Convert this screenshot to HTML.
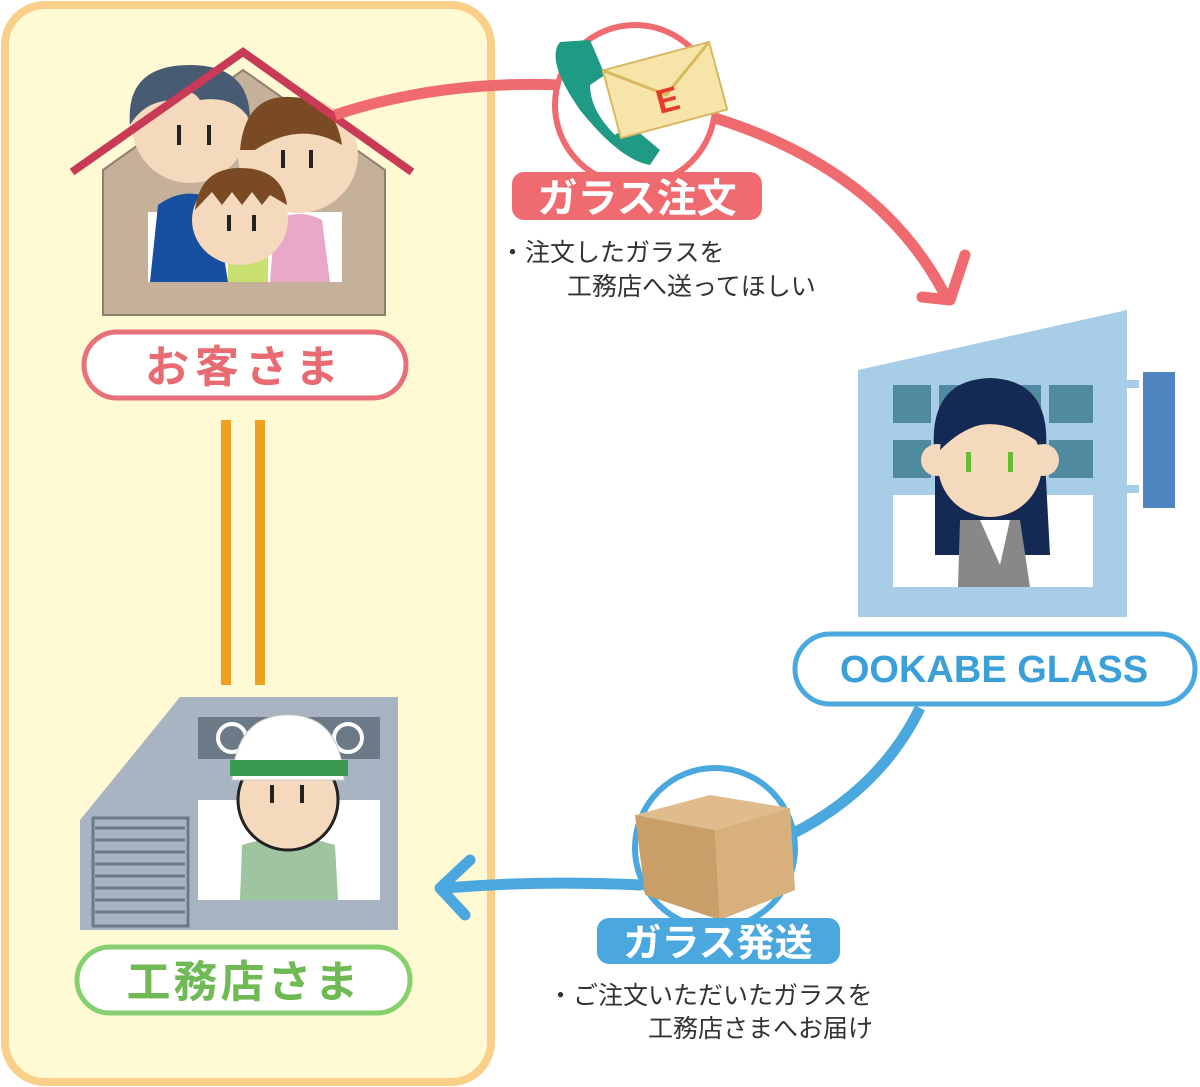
<!DOCTYPE html>
<html><head><meta charset="utf-8"><style>
html,body{margin:0;padding:0;background:#fff;}
svg{display:block}
text{font-family:"Liberation Sans","Noto Sans CJK JP",sans-serif;}
</style></head><body>
<svg width="1200" height="1087" viewBox="0 0 1200 1087" xmlns="http://www.w3.org/2000/svg">
<rect x="5" y="5" width="486" height="1077" rx="40" fill="#fff9d4" stroke="#f9cf8a" stroke-width="8"/>
<polygon points="103,170 243,70 385,170 385,315 103,315" fill="#c5b09a" stroke="#8f7f70" stroke-width="2"/>
<rect x="148" y="212" width="194" height="70" fill="#fff"/>
<path d="M150,282 L158,205 Q185,185 215,200 L228,282 Z" fill="#1750a0"/>
<ellipse cx="190" cy="125" rx="58" ry="58" fill="#f5d9bc"/>
<path d="M130,125 Q125,65 190,65 Q250,65 250,120 Q235,95 200,100 Q190,85 175,100 Q145,100 130,125Z" fill="#475c72"/>
<path d="M270,282 L275,220 Q300,208 322,220 L330,282Z" fill="#e8a8c8"/>
<ellipse cx="298" cy="155" rx="60" ry="58" fill="#f5d9bc"/>
<path d="M240,150 Q245,95 290,97 Q335,98 342,145 Q300,120 255,150Z" fill="#7a4a25"/>
<rect x="228" y="250" width="40" height="32" fill="#c8e070"/>
<ellipse cx="240" cy="220" rx="48" ry="45" fill="#f5d9bc"/>
<path d="M195,210 Q200,168 240,168 Q282,168 287,205 L270,195 L262,205 L252,192 L242,205 L232,192 L222,205 L212,192Z" fill="#7a4a25"/>
<g fill="#222"><rect x="177" y="125" width="4" height="20"/><rect x="207" y="125" width="4" height="20"/><rect x="227" y="215" width="4" height="16"/><rect x="252" y="215" width="4" height="16"/><rect x="281" y="150" width="4" height="18"/><rect x="309" y="150" width="4" height="18"/></g>
<polyline points="72,172 243,52 412,172" fill="none" stroke="#c83a55" stroke-width="8"/>
<rect x="84" y="332" width="322" height="66" rx="33" fill="#fff" stroke="#e8707a" stroke-width="5"/>
<text x="245" y="382" text-anchor="middle" font-size="44" font-weight="bold" fill="#e76b70" letter-spacing="6">お客さま</text>
<line x1="226" y1="420" x2="226" y2="685" stroke="#f0a020" stroke-width="10"/>
<line x1="260" y1="420" x2="260" y2="685" stroke="#f0a020" stroke-width="10"/>
<polygon points="80,820 180,697 398,697 398,930 80,930" fill="#a8b4c2"/>
<rect x="198" y="717" width="182" height="42" fill="#6c7a88"/>
<rect x="198" y="800" width="182" height="100" fill="#fff"/>
<g stroke="#6c7a88" stroke-width="3"><line x1="95" y1="828" x2="185" y2="828"/><line x1="95" y1="840" x2="185" y2="840"/><line x1="95" y1="852" x2="185" y2="852"/><line x1="95" y1="864" x2="185" y2="864"/><line x1="95" y1="876" x2="185" y2="876"/><line x1="95" y1="888" x2="185" y2="888"/><line x1="95" y1="900" x2="185" y2="900"/><line x1="95" y1="912" x2="185" y2="912"/></g>
<rect x="93" y="818" width="95" height="108" fill="none" stroke="#6c7a88" stroke-width="3"/>
<circle cx="232" cy="738" r="14" fill="none" stroke="#fff" stroke-width="4"/>
<circle cx="348" cy="738" r="14" fill="none" stroke="#fff" stroke-width="4"/>
<path d="M240,900 L242,845 Q288,830 335,845 L338,900Z" fill="#9ec4a0"/>
<circle cx="288" cy="800" r="50" fill="#f5d9bc" stroke="#222" stroke-width="3"/>
<path d="M232,780 Q236,715 288,715 Q340,715 344,780Z" fill="#fff" stroke="#ccc"/>
<rect x="230" y="760" width="118" height="16" fill="#3a9a50"/>
<g fill="#222"><rect x="270" y="785" width="4" height="18"/><rect x="300" y="785" width="4" height="18"/></g>
<rect x="77" y="947" width="333" height="66" rx="33" fill="#fff" stroke="#86d070" stroke-width="5"/>
<text x="244" y="997" text-anchor="middle" font-size="44" font-weight="bold" fill="#6fba55" letter-spacing="3">工務店さま</text>
<path d="M335,115 Q440,80 560,85" fill="none" stroke="#ef6b70" stroke-width="11"/>
<path d="M715,118 Q880,170 945,295" fill="none" stroke="#ef6b70" stroke-width="11" stroke-linecap="round"/>
<polyline points="922,297 950,300 965,255" fill="none" stroke="#ef6b70" stroke-width="11" stroke-linecap="round" stroke-linejoin="round"/>
<circle cx="635" cy="105" r="80" fill="#fff" stroke="#ef6b70" stroke-width="6"/>
<path d="M560,42 Q545,60 580,110 Q620,160 650,165 L660,150 L630,125 L615,135 Q590,110 590,85 L605,75 L590,40Z" fill="#1f9a84"/>
<g transform="rotate(-15 665 90)"><rect x="610" y="55" width="110" height="70" fill="#f7e4a8" stroke="#d8b860" stroke-width="2"/><polyline points="610,55 665,95 720,55" fill="none" stroke="#d8b860" stroke-width="3"/><text x="665" y="112" text-anchor="middle" font-size="34" font-weight="bold" fill="#e83a2a">E</text></g>
<rect x="512" y="172" width="250" height="48" rx="12" fill="#ef6b70"/>
<text x="637" y="212" text-anchor="middle" font-size="40" font-weight="bold" fill="#fff">ガラス注文</text>
<text x="500" y="261" font-size="25" fill="#333">・注文したガラスを</text>
<text x="567" y="295" font-size="25" fill="#333">工務店へ送ってほしい</text>
<polygon points="858,370 1127,310 1127,617 858,617" fill="#a8cde6"/>
<rect x="1127" y="380" width="12" height="8" fill="#a8cde6"/><rect x="1127" y="485" width="12" height="8" fill="#a8cde6"/>
<rect x="1143" y="372" width="32" height="136" fill="#4f86bf"/>
<rect x="893" y="385" width="200" height="38" fill="#4f8aa0"/>
<rect x="893" y="440" width="200" height="38" fill="#4f8aa0"/>
<line x1="935" y1="385" x2="935" y2="478" stroke="#a8cde6" stroke-width="8"/><line x1="1045" y1="385" x2="1045" y2="478" stroke="#a8cde6" stroke-width="8"/>
<line x1="893" y1="431" x2="1093" y2="431" stroke="#a8cde6" stroke-width="10"/>
<rect x="893" y="495" width="200" height="92" fill="#fff"/>
<path d="M935,460 Q925,380 990,378 Q1055,380 1045,460 L1050,555 L935,555Z" fill="#142a55"/>
<path d="M960,520 L1020,520 L1030,587 L958,587Z" fill="#888"/>
<polygon points="980,520 1000,565 1010,520" fill="#fff"/>
<circle cx="990" cy="465" r="52" fill="#f5d9bc"/>
<circle cx="937" cy="460" r="16" fill="#f5d9bc"/><circle cx="1043" cy="460" r="16" fill="#f5d9bc"/>
<path d="M940,450 Q945,395 990,392 Q1040,395 1042,445 Q1010,420 980,425 Q960,430 940,450Z" fill="#142a55"/>
<g fill="#5fbf30"><rect x="966" y="452" width="5" height="20"/><rect x="1008" y="452" width="5" height="20"/></g>
<rect x="795" y="634" width="400" height="70" rx="35" fill="#fff" stroke="#4aa8de" stroke-width="5"/>
<text x="994" y="682" text-anchor="middle" font-size="38" font-weight="bold" fill="#3b9fd8">OOKABE GLASS</text>
<path d="M920,708 Q880,790 790,835" fill="none" stroke="#4aa8de" stroke-width="11"/>
<path d="M640,885 Q540,880 445,888" fill="none" stroke="#4aa8de" stroke-width="11" stroke-linecap="round"/>
<polyline points="470,860 440,888 465,915" fill="none" stroke="#4aa8de" stroke-width="11" stroke-linecap="round" stroke-linejoin="round"/>
<circle cx="715" cy="848" r="80" fill="#fff" stroke="#4aa8de" stroke-width="6"/>
<polygon points="635,815 710,795 790,808 715,830" fill="#e0bc8c"/>
<polygon points="635,815 715,830 720,920 645,895" fill="#c99e68"/>
<polygon points="715,830 790,808 795,890 720,920" fill="#d8b07c"/>
<rect x="597" y="918" width="243" height="46" rx="12" fill="#4aa8de"/>
<text x="718" y="956" text-anchor="middle" font-size="38" font-weight="bold" fill="#fff">ガラス発送</text>
<text x="548" y="1004" font-size="25" fill="#333">・ご注文いただいたガラスを</text>
<text x="648" y="1037" font-size="25" fill="#333">工務店さまへお届け</text>
</svg>
</body></html>
